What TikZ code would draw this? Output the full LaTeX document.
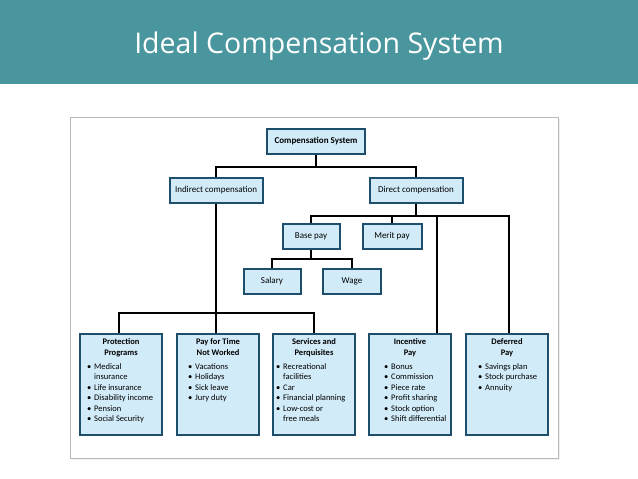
\documentclass[tikz,border=0pt]{standalone}
\usepackage{fontspec}
\setmainfont{Carlito}
\newfontfamily\titlefont{Open Sans}
\usetikzlibrary{positioning}

\definecolor{bandteal}{HTML}{4A969E}
\definecolor{boxfill}{HTML}{D2EBF8}
\definecolor{boxline}{HTML}{1D4E6C}
\definecolor{framegray}{HTML}{B9B9B9}

% bullet list inside the lower boxes, #1 = indent
\newcommand{\plist}[2]{\par\vspace{3.5pt}\raggedright\hspace*{#1}%
  \begin{tabular}[t]{@{}l@{\hspace{3pt}}l@{}}#2\end{tabular}}
\newcommand{\boxhead}[1]{\vspace*{5pt}{\centering\textbf{#1}\par}}

\begin{document}
\begin{tikzpicture}[x=1pt, y=-1pt,
  small/.style={rectangle, draw=boxline, fill=boxfill, line width=2pt,
    minimum height=25pt, inner sep=0pt, text height=6pt, text depth=2pt,
    font=\fontsize{9}{10}\selectfont},
  big/.style={rectangle, draw=boxline, fill=boxfill, line width=2pt,
    minimum width=82pt, minimum height=101pt, inner sep=0pt,
    font=\fontsize{8.5}{10.5}\selectfont},
  link/.style={line width=1.6pt, black}
]

\useasboundingbox (0,0) rectangle (638,479);

% Title band
\fill[bandteal] (0,0) rectangle (638,84);
\node[text=white, anchor=base, font=\titlefont\fontsize{28.5}{34}\selectfont] (title) at (319,53) {Ideal Compensation System};

% Frame
\fill[black!6] (72,119) rectangle (560,460);
\draw[framegray, fill=white, line width=0.8pt] (70,117) rectangle (558,458);

% Upper boxes
\node[small, minimum width=98pt] (comp) at (316,141) {\textbf{Compensation System}};
\node[small, minimum width=93pt] (ind) at (216,190) {Indirect compensation};
\node[small, minimum width=93pt] (dir) at (416,190) {Direct compensation};
\node[small, minimum width=57pt] (base) at (311,236) {Base pay};
\node[small, minimum width=59pt] (merit) at (392,236) {Merit pay};
\node[small, minimum width=57pt] (sal) at (272,281) {Salary};
\node[small, minimum width=58pt] (wage) at (352,281) {Wage};

% Lower boxes
\node[big] (prot) at (121,384.5) {\parbox[t][101pt][t]{80pt}{\boxhead{Protection\\Programs}
  \plist{6pt}{\textbullet & Medical\\ & insurance\\ \textbullet & Life insurance\\
    \textbullet & Disability income\\ \textbullet & Pension\\ \textbullet & Social Security}}};
\node[big] (time) at (218,384.5) {\parbox[t][101pt][t]{80pt}{\boxhead{Pay for Time\\Not Worked}
  \plist{10pt}{\textbullet & Vacations\\ \textbullet & Holidays\\ \textbullet & Sick leave\\
    \textbullet & Jury duty}}};
\node[big] (serv) at (314,384.5) {\parbox[t][101pt][t]{80pt}{\boxhead{Services and\\Perquisites}
  \plist{2pt}{\textbullet & Recreational\\ & facilities\\ \textbullet & Car\\
    \textbullet & Financial planning\\ \textbullet & Low-cost or\\ & free meals}}};
\node[big] (inc) at (410,384.5) {\parbox[t][101pt][t]{80pt}{\boxhead{Incentive\\Pay}
  \plist{14pt}{\textbullet & Bonus\\ \textbullet & Commission\\ \textbullet & Piece rate\\
    \textbullet & Profit sharing\\ \textbullet & Stock option\\ \textbullet & Shift differential}}};
\node[big] (def) at (507,384.5) {\parbox[t][101pt][t]{80pt}{\boxhead{Deferred\\Pay}
  \plist{11pt}{\textbullet & Savings plan\\ \textbullet & Stock purchase\\ \textbullet & Annuity}}};

% Connectors
\coordinate (top) at (316,167);
\coordinate (dbus) at (416,216);
\coordinate (bbus) at (311,259);
\coordinate (ibus) at (216,313);

\draw[link] (comp) -- (top);
\draw[link] (top) -| (ind);
\draw[link] (top) -| (dir);

\draw[link] (dir) -- (dbus);
\draw[link] (dbus) -| (base);
\draw[link] (dbus) -| (merit);
\draw[link] (dbus) -| ([xshift=27pt]inc.north);
\draw[link] (dbus) -| ([xshift=2pt]def.north);

\draw[link] (base) -- (bbus);
\draw[link] (bbus) -| (sal);
\draw[link] (bbus) -| (wage);

\draw[link] (ind) -- (ibus);
\draw[link] (ibus) -| ([xshift=-2pt]prot.north);
\draw[link] (ibus) -| ([xshift=-2pt]time.north);
\draw[link] (ibus) -| (serv);

\end{tikzpicture}
\end{document}
